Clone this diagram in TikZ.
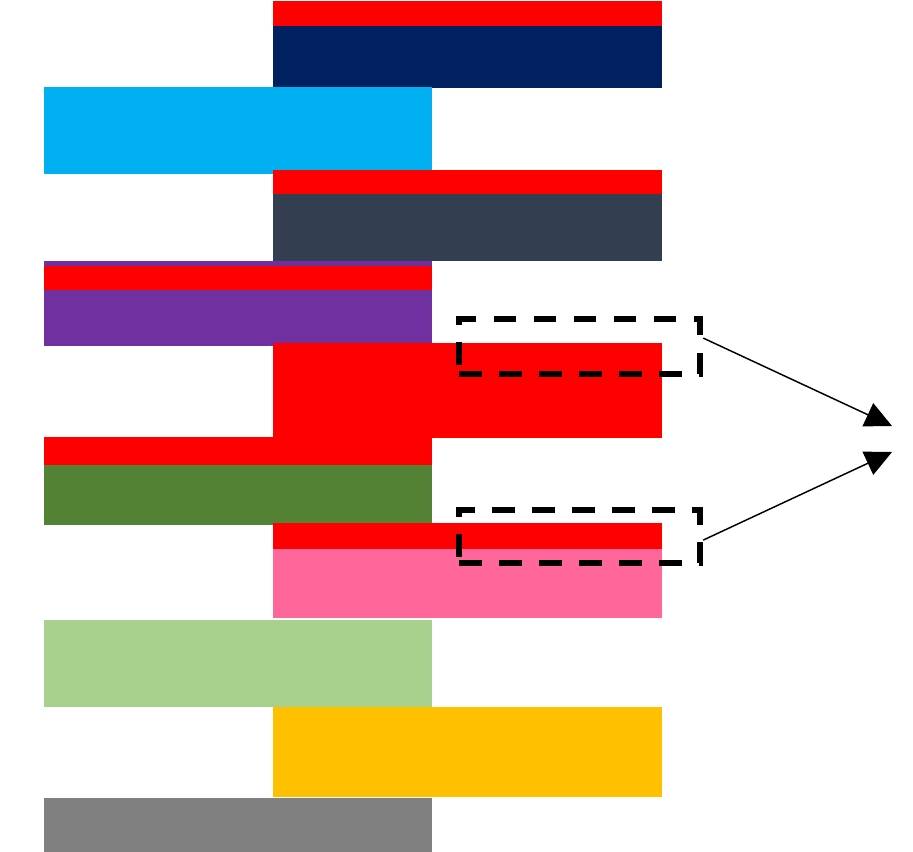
\documentclass[tikz,border=0pt]{standalone}
\usetikzlibrary{arrows.meta}
\definecolor{navyband}{HTML}{002060}
\definecolor{skyband}{HTML}{00B0F0}
\definecolor{slateband}{HTML}{333F50}
\definecolor{purpleband}{HTML}{7030A0}
\definecolor{redband}{HTML}{FF0000}
\definecolor{greenband}{HTML}{548235}
\definecolor{pinkband}{HTML}{FF6699}
\definecolor{lightgreenband}{HTML}{A9D18E}
\definecolor{yellowband}{HTML}{FFC000}
\definecolor{grayband}{HTML}{808080}
\begin{document}
\begin{tikzpicture}[x=0.75pt,y=-0.75pt]
\useasboundingbox (0,0) rectangle (913,852);
% stacked bands
\fill[navyband] (273,1) rectangle (662,88);
\fill[redband] (273,1) rectangle (662,26);
\fill[skyband] (44,87) rectangle (432,174);
\fill[slateband] (273,170) rectangle (662,261);
\fill[redband] (273,170) rectangle (662,194);
\fill[purpleband] (44,261) rectangle (432,346);
\fill[redband] (44,266) rectangle (432,290);
\fill[redband] (273,343) rectangle (662,438);
\fill[greenband] (44,437) rectangle (432,525);
\fill[redband] (44,437) rectangle (432,465);
\fill[pinkband] (273,523) rectangle (662,618);
\fill[redband] (273,523) rectangle (662,549);
\fill[lightgreenband] (44,620) rectangle (432,707);
\fill[yellowband] (273,707) rectangle (662,797);
\fill[grayband] (44,798) rectangle (432,852);
% zoomed regions
\begin{scope}[every node/.style={draw,line width=4.6pt,dash pattern=on 17pt off 13pt,
  minimum width=181pt,inner sep=0pt}]
\node (Z1) [minimum height=41pt] at (579.5,346.75) {};
\node (Z2) [minimum height=40pt] at (579.5,536.75) {};
\end{scope}
\coordinate (T1) at (892,426);
\coordinate (T2) at (892,452);
\draw [line width=1.1pt,-{Triangle[length=20pt,width=19pt]}] ([yshift=6.5pt]Z1.east) -- (T1);
\draw [line width=1.1pt,-{Triangle[length=20pt,width=19pt]}] ([yshift=-2.5pt]Z2.east) -- (T2);
\end{tikzpicture}
\end{document}
